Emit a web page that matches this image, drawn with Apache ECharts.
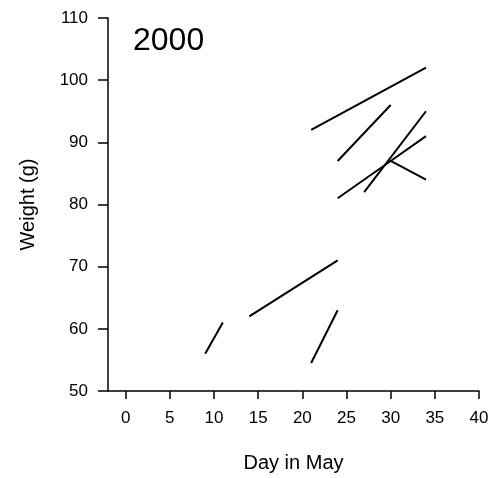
<!DOCTYPE html>
<html>
<head>
<meta charset="utf-8">
<script src="https://cdn.jsdelivr.net/npm/echarts@6/dist/echarts.min.js"></script>
<style>html,body{margin:0;padding:0;background:#fff}#c{width:496px;height:478px}</style>
</head>
<body>
<div id="c"></div>
<script>
const titleText = "2000";
const xName = "Day in May";
const yName = "Weight (g)";
const xTicks = [0, 5, 10, 15, 20, 25, 30, 35, 40];
const yTicks = [50, 60, 70, 80, 90, 100, 110];
// each individual: [day, weight] pairs
const ind1 = [[21, 92], [34, 102]];
const ind2 = [[24, 87], [30, 96]];
const ind3 = [[24, 81], [30, 87], [34, 91]];
const ind4 = [[30, 87], [34, 84]];
const ind5 = [[27, 82], [34, 95]];
const ind6 = [[9, 56], [11, 61]];
const ind7 = [[14, 62], [24, 71]];
const ind8 = [[21, 54.5], [24, 63]];
const individuals = [ind1, ind2, ind3, ind4, ind5, ind6, ind7, ind8];

const font = 'Liberation Sans, Arial, sans-serif';
const chart = echarts.init(document.getElementById('c'));
chart.setOption({
  animation: false,
  title: {
    text: titleText, left: 128, top: 20,
    textStyle: {fontFamily: font, fontSize: 32, fontWeight: 'normal', color: '#000'}
  },
  grid: {left: 108, right: 17, top: 18, bottom: 87, containLabel: false},
  xAxis: {
    type: 'value', min: -2, max: 40,
    name: xName, nameLocation: 'middle', nameGap: 62,
    nameTextStyle: {fontFamily: font, fontSize: 20, color: '#000'},
    axisLine: {show: true, onZero: false, lineStyle: {color: '#000', width: 1.5}},
    axisTick: {show: true, inside: false, length: 8, customValues: xTicks, lineStyle: {color: '#000', width: 1.5}},
    axisLabel: {customValues: xTicks, margin: 19, fontFamily: font, fontSize: 17, color: '#000'},
    splitLine: {show: false}
  },
  yAxis: {
    type: 'value', min: 50, max: 110, interval: 10,
    name: yName, nameLocation: 'middle', nameGap: 70,
    nameTextStyle: {fontFamily: font, fontSize: 20, color: '#000'},
    axisLine: {show: true, onZero: false, lineStyle: {color: '#000', width: 1.5}},
    axisTick: {show: true, inside: false, length: 10, customValues: yTicks, lineStyle: {color: '#000', width: 1.5}},
    axisLabel: {customValues: yTicks, margin: 20, fontFamily: font, fontSize: 17, color: '#000'},
    splitLine: {show: false}
  },
  series: individuals.map(d => ({
    type: 'line', data: d, symbol: 'none',
    lineStyle: {color: '#000', width: 2}
  }))
});
</script>
</body>
</html>
